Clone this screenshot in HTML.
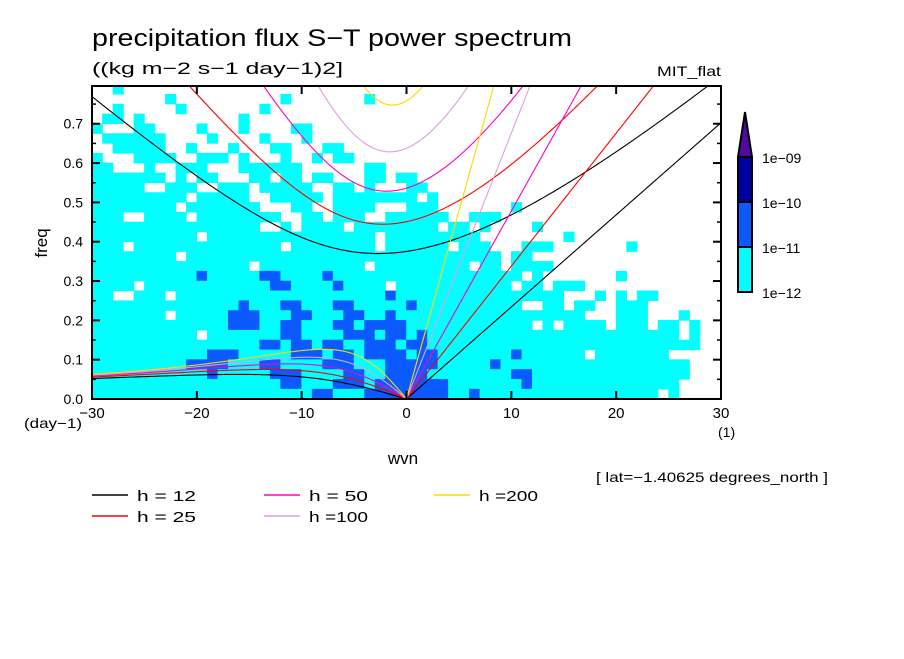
<!DOCTYPE html>
<html><head><meta charset="utf-8"><style>
html,body{margin:0;padding:0;background:#fff}
svg text{font-family:"Liberation Sans",sans-serif;fill:#000}
</style></head><body>
<svg id="chart" width="904" height="654" viewBox="0 0 904 654" xmlns="http://www.w3.org/2000/svg">
<defs><clipPath id="plotclip"><rect x="92" y="86" width="629" height="313"/></clipPath></defs>
<rect width="904" height="654" fill="#fff"/>
<text x="92" y="46" font-size="24" textLength="480" lengthAdjust="spacingAndGlyphs">precipitation flux S−T power spectrum</text>
<text x="92" y="74" font-size="17" textLength="251" lengthAdjust="spacingAndGlyphs">((kg m−2 s−1 day−1)2]</text>
<text x="657" y="76" font-size="14" textLength="64" lengthAdjust="spacingAndGlyphs">MIT_flat</text>
<g id="field" clip-path="url(#plotclip)"></g>
<g id="curves" clip-path="url(#plotclip)"></g>
<g id="axes"></g>
<text x="0" y="0" font-size="17" transform="translate(47,243) rotate(-90)" text-anchor="middle">freq</text>
<text x="24" y="428" font-size="14" textLength="58" lengthAdjust="spacingAndGlyphs">(day−1)</text>
<text x="718" y="437" font-size="14">(1)</text>
<text x="403" y="464" font-size="17" text-anchor="middle">wvn</text>
<text x="596" y="482" font-size="14" textLength="232" lengthAdjust="spacingAndGlyphs">[ lat=−1.40625 degrees_north ]</text>
<g id="colorbar">
<polygon points="745,112 752,157 738,157" fill="#500aa0" stroke="#000" stroke-width="2"/>
<rect x="738" y="157" width="14" height="45" fill="#0000a0" stroke="#000" stroke-width="2"/>
<rect x="738" y="202" width="14" height="45" fill="#0a5aff" stroke="#000" stroke-width="2"/>
<rect x="738" y="247" width="14" height="45" fill="#00ffff" stroke="#000" stroke-width="2"/>
<text x="762" y="163" font-size="14">1e−09</text>
<text x="762" y="208" font-size="14">1e−10</text>
<text x="762" y="253" font-size="14">1e−11</text>
<text x="762" y="298" font-size="14">1e−12</text>
</g>
<g id="legend"></g>
</svg>
<script>
const depths = [12, 25, 50, 100, 200];
const depthLabels = ["h = 12", "h = 25", "h = 50", "h =100", "h =200"];
const kMin = -30, kMax = 30, fMax = 0.796;
const xTicks = [-30, -20, -10, 0, 10, 20, 30];
const yTicks = [0, 0.1, 0.2, 0.3, 0.4, 0.5, 0.6, 0.7];
const yTickLabels = ["0.0", "0.1", "0.2", "0.3", "0.4", "0.5", "0.6", "0.7"];
// field levels: rows from top (0.775-0.8) to bottom (0-0.025); "left(k=-30..-1)|right(k=0..29)"
const fieldRows = [
"..c...........................|",
".......c..........c.......c...|",
"..c.....c.......c.............|",
".cc.c.........c...............|",
"c...cc....c...c....cc.........|",
".cccccc....c....c...c.........|",
"..ccccc..c...c...cc...cc......|",
"c...cccc..ccc.c...c..c.cc.....|",
"cc...c..ccc...cccccc......cc..|",
"ccccccc.c.cc...cc.cc.cc...cc.c|c",
"ccccc..ccc..ccc.ccccc..cc.c...|cc",
"ccccccccc.ccccc..ccccc.ccccccc|c.c",
"cccccccc.ccccccc...cc..cccc...|ccc.......c",
"ccc..cccc.cccccccc..cc.ccc..cc|cccc..ccc",
"cccccccccccccccc..c.cccc.ccccc|ccc.cc.c....c",
"cccccccccc.cccccccccccccccc.cc|ccccccc........c",
"ccc.cccccccccccccc.cccccccc.cc|cccc.ccc...ccc.......c",
"cccccccc.ccccccccccccccccccccc|ccccccccc.cc",
"ccccccccccccccc.cccccccccc.ccc|cccccc.cc.cccc",
"ccccccccccbcccccbbccccbccccccc|ccccccccccc.c.......c",
"cccc.ccccccccccccbbccccbcccc.c|cccccccccc.cc.ccc....",
"cc..ccc.ccccccccccccccccccccbc|ccccccccccccccc...c.c.cc",
"ccccccccccccccbcccbbcccbbccccc|bcccccccccc..cc.cc..ccc",
"ccccccc.cccccbbbcccbbcccbbccbc|ccccccccccccccccc...ccc...c",
"cccccccccccccbbbccbbcccbbcbbbb|cccccccccccc.c.cccc.ccc.cc.c",
"cccccccccc.cccccccbbccccbbbcbb|cbcccccccccccccccccccccccc.c",
"ccccccccccccccccbbcbbcbbccbbbc|bbcccccccccccccccccccccccccc",
"cccccccccccbbbcccccbbbcbbcbbbb|cbbcccccccbcccccc.ccccccc.",
"cccccccccbbbbcccbbccccbbbcccbb|bbbcccccbcccccccccccccccccc",
"cccccccccccbcccccbbbccccbbccbb|bbccccccccbbccccccccccccccc",
"ccccccccccccccccccbbcccbbbcbbb|bbbbcccccccbcccccccccccccc",
"cccccccccccccccccccccbbcccbbbb|bbbbccbccccccccccccccccc.c"
];
const levelColors = {c: "#00ffff", b: "#0a5aff", d: "#0000a0"};
const curveColors = ["#000000", "#ff0000", "#ff00c0", "#dda0dd", "#ffd700"];

const NS = "http://www.w3.org/2000/svg";
const X0 = 92, X1 = 721, Y0 = 399, Y1 = 86;
function xs(k){ return X0 + (k - kMin) / (kMax - kMin) * (X1 - X0); }
function ys(f){ return Y0 - f / fMax * (Y0 - Y1); }
function mk(tag, attrs, parent){ const e = document.createElementNS(NS, tag); for (const a in attrs) e.setAttribute(a, attrs[a]); parent.appendChild(e); return e; }

// field
const field = document.getElementById("field");
fieldRows.forEach((row, ri) => {
  const parts = row.split("|");
  const full = (parts[0] + ".".repeat(30)).slice(0, 30) + ((parts[1] || "") + ".".repeat(30)).slice(0, 30);
  const fHi = 0.8 - ri * 0.025, fLo = fHi - 0.025;
  for (let ci = 0; ci < 60; ci++) {
    const ch = full[ci];
    if (!levelColors[ch]) continue;
    const k0 = kMin + ci;
    const r = mk("rect", {x: xs(k0) - 0.3, y: ys(fHi) - 0.3, width: xs(k0 + 1) - xs(k0) + 0.6, height: ys(fLo) - ys(fHi) + 0.6, fill: levelColors[ch]}, field);
    
    
  }
});

// dispersion curves (equatorial shallow water, n=1)
const g = 9.81, beta = 2.2886e-11, a = 6.371e6, toCpd = 86400 / (2 * Math.PI);
const curves = document.getElementById("curves");
function addPath(pts, color, name){
  const d = pts.map((p, i) => (i ? "L" : "M") + xs(p[0]).toFixed(2) + "," + ys(p[1]).toFixed(2)).join(" ");
  const p = mk("path", {d: d, fill: "none", stroke: color, "stroke-width": 1.1}, curves);
  
  
}
depths.forEach((h, i) => {
  const c = Math.sqrt(g * h), col = curveColors[i];
  const kel = [], ig = [], er = [];
  for (let kk = kMin; kk <= kMax + 1e-9; kk += 0.25) {
    const k = kk / a;
    if (kk >= 0) kel.push([kk, c * k * toCpd]);
    let w = Math.sqrt(c * c * k * k + 3 * beta * c);
    for (let it = 0; it < 30; it++) w = Math.sqrt(Math.max(1e-20, c * c * k * k + 3 * beta * c + beta * c * c * k / w));
    ig.push([kk, w * toCpd]);
    if (kk <= 0) er.push([kk, -beta * k / (k * k + 3 * beta / c) * toCpd]);
  }
  addPath(kel, col, "kelvin-curve-h" + h);
  addPath(ig, col, "inertia-gravity-curve-h" + h);
  addPath(er, col, "rossby-curve-h" + h);
});

// axes
const axes = document.getElementById("axes");
const frame = mk("rect", {x: X0, y: Y1, width: X1 - X0, height: Y0 - Y1, fill: "none", stroke: "#000", "stroke-width": 2}, axes);


yTicks.forEach((v, i) => {
  const y = ys(v);
  mk("line", {x1: X0, x2: X0 + 8, y1: y, y2: y, stroke: "#000", "stroke-width": 2}, axes);
  mk("line", {x1: X1, x2: X1 - 8, y1: y, y2: y, stroke: "#000", "stroke-width": 2}, axes);
  const ym = ys(v + 0.05);
  if (ym > Y1) {
    mk("line", {x1: X0, x2: X0 + 4, y1: ym, y2: ym, stroke: "#000", "stroke-width": 1.5}, axes);
    mk("line", {x1: X1, x2: X1 - 4, y1: ym, y2: ym, stroke: "#000", "stroke-width": 1.5}, axes);
  }
  const t = mk("text", {x: 83, y: y + 5, "font-size": 14, "text-anchor": "end"}, axes);
  t.textContent = yTickLabels[i];
  
  
});
xTicks.forEach(v => {
  const x = xs(v);
  mk("line", {x1: x, x2: x, y1: Y0, y2: Y0 - 8, stroke: "#000", "stroke-width": 2}, axes);
  mk("line", {x1: x, x2: x, y1: Y1, y2: Y1 + 8, stroke: "#000", "stroke-width": 2}, axes);
  const t = mk("text", {x: x, y: 418, "font-size": 15, "text-anchor": "middle"}, axes);
  t.textContent = v < 0 ? "−" + (-v) : String(v);
  
  
});

// legend
const legend = document.getElementById("legend");
const legendPos = [[92, 495], [92, 516], [264, 495], [264, 516], [434, 495]];
depths.forEach((h, i) => {
  const [lx, ly] = legendPos[i];
  const ent = mk("g", {}, legend);
  
  
  mk("line", {x1: lx, x2: lx + 36, y1: ly, y2: ly, stroke: curveColors[i], "stroke-width": 1.5}, ent);
  const t = mk("text", {x: lx + 45, y: ly + 6, "font-size": 15, textLength: 59, lengthAdjust: "spacingAndGlyphs"}, ent);
  t.textContent = depthLabels[i];
});
</script>
</body></html>
